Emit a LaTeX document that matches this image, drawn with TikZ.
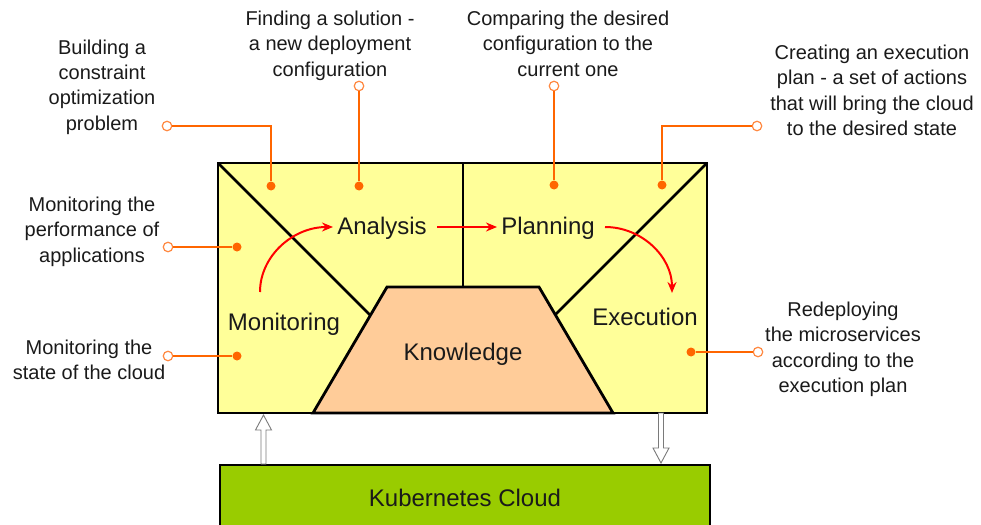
\documentclass[tikz,border=0pt]{standalone}
\usepackage{fontspec}
\setmainfont{Liberation Sans}
\usetikzlibrary{arrows.meta}
\definecolor{boxyellow}{HTML}{FFFF99}
\definecolor{knowpeach}{HTML}{FFCC99}
\definecolor{kubegreen}{HTML}{99CC00}
\definecolor{callorange}{HTML}{FF6600}
\definecolor{ringorange}{HTML}{FF8840}
\definecolor{txt}{HTML}{1A1A1A}
\definecolor{hollowgray}{HTML}{7A7A7A}
\begin{document}
\begin{tikzpicture}[x=1pt,y=-1pt,
  callout/.style={font=\fontsize{20}{25.5}\selectfont, align=center, text=txt, inner sep=0pt, anchor=base},
  mainlabel/.style={font=\fontsize{24}{28}\selectfont, text=txt, inner sep=0pt, anchor=base},
  boxline/.style={line width=2.8pt, draw=black, line join=miter},
  leader/.style={callorange, line width=2.6pt},
  enddot/.style={circle, fill=callorange, inner sep=0pt, minimum size=9pt},
  endring/.style={circle, draw=ringorange, fill=white, line width=1.2pt, inner sep=0pt, minimum size=9.5pt},
  flow/.style={red, line width=2pt, -{Stealth[length=11pt,width=9pt]}},
  hollow/.style={draw=hollowgray, fill=white, line width=0.9pt, line join=miter}
]
\useasboundingbox (0,0) rectangle (981,524);
\clip (0,0) rectangle (981,524);

% main MAPE-K box
\fill[boxyellow] (218,163) rectangle (707,413);
\draw[boxline] (218,163) -- (380,325);
\draw[boxline] (707,163) -- (545,325);
\draw[boxline] (463,163) -- (463,290);
\draw[boxline, fill=knowpeach] (313,413) -- (387,287) -- (539,287) -- (613,413) -- cycle;
\draw[boxline] (218,163) rectangle (707,413);

% Kubernetes cloud
\draw[boxline, fill=kubegreen] (220,465) rectangle (710,545);
\node[mainlabel] (kube) at (465,506) {Kubernetes Cloud};

% hollow arrows
\coordinate (upTip) at (263.5,415);
\coordinate (downTip) at (661,463);
\draw[hollow] (upTip) -- ++(8,15) -- ++(-5.5,0) -- ++(0,34) -- ++(-5,0) -- ++(0,-34) -- ++(-5.5,0) -- cycle;
\draw[hollow] (downTip) -- ++(8,-15) -- ++(-5.5,0) -- ++(0,-35) -- ++(-5,0) -- ++(0,35) -- ++(-5.5,0) -- cycle;

% main labels
\node[mainlabel] (ana) at (382,234) {Analysis};
\node[mainlabel] (plan) at (548,234) {Planning};
\node[mainlabel] (mon) at (284,330) {Monitoring};
\node[mainlabel] (exe) at (645,325.5) {Execution};
\node[mainlabel] (know) at (463,360) {Knowledge};

% red flow arrows
\coordinate (monOut) at (260,292);
\coordinate (anaIn) at (333,227);
\coordinate (anaOut) at (437,227);
\coordinate (planIn) at (497,227);
\coordinate (planOut) at (605,227);
\coordinate (exeIn) at (672,293);
\draw[flow] (monOut) .. controls (260,256) and (293,227) .. (anaIn);
\draw[flow] (anaOut) -- (planIn);
\draw[flow] (planOut) .. controls (642,227) and (672,257) .. (exeIn);

% callout texts (base = baseline of last line)
\node[callout] (ta) at (102,130.5) {Building a\\constraint\\optimization\\problem};
\node[callout] (tb) at (330,76.5) {Finding a solution -\\a new deployment\\configuration};
\node[callout] (tc) at (568,76.5) {Comparing the desired\\configuration to the\\current one};
\node[callout] (td) at (872,135.5) {Creating an execution\\plan - a set of actions\\that will bring the cloud\\to the desired state};
\node[callout] (te) at (92,262) {Monitoring the\\performance of\\applications};
\node[callout] (tf) at (89,379.5) {Monitoring the\\state of the cloud};
\node[callout] (tg) at (843,392.5) {Redeploying\\the microservices\\according to the\\execution plan};

% callout ends
\node[endring] (ra) at (167,126) {};
\node[enddot] (da) at (271,186) {};
\node[endring] (rb) at (359,86) {};
\node[enddot] (db) at (359,186) {};
\node[endring] (rc) at (554,86) {};
\node[enddot] (dc) at (554,185) {};
\node[endring] (rd) at (757,126) {};
\node[enddot] (dd) at (662,185) {};
\node[endring] (re) at (168,247) {};
\node[enddot] (de) at (237,247) {};
\node[endring] (rf) at (168,356) {};
\node[enddot] (df) at (237,356) {};
\node[endring] (rg) at (758,352) {};
\node[enddot] (dg) at (691,352) {};

% leaders
\draw[leader] (ra) -| (da);
\draw[leader] (rb) -- (db);
\draw[leader] (rc) -- (dc);
\draw[leader] (rd) -| (dd);
\draw[leader] (re) -- (de);
\draw[leader] (rf) -- (df);
\draw[leader] (rg) -- (dg);
\end{tikzpicture}
\end{document}
